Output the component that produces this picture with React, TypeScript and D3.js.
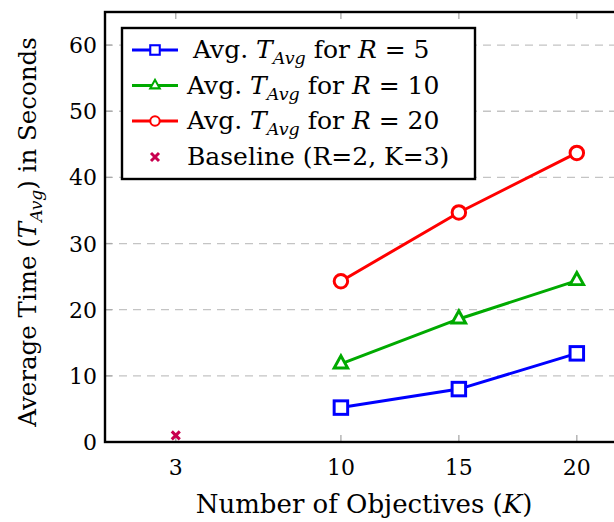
import React from "react";
import * as d3 from "d3";

const kValues = [10, 15, 20];
const r5 = [5.2, 8.0, 13.4];
const r10 = [11.8, 18.6, 24.4];
const r20 = [24.3, 34.7, 43.7];
const baselineK = [3];
const baselineVal = [1.0];
const xTicks = [3, 10, 15, 20];
const yTicks = [0, 10, 20, 30, 40, 50, 60];

const W = 614, H = 522;
const L = 105, T = 12, B = 442, R = 624;
const FONT = "DejaVu Serif";

const x = d3.scaleLinear().domain([0, 22]).range([L, R]);
const y = d3.scaleLinear().domain([0, 65]).range([B, T]);

const series = [
  { name: "5", vals: r5, color: "#0000ff", marker: "square" },
  { name: "10", vals: r10, color: "#00aa00", marker: "triangle" },
  { name: "20", vals: r20, color: "#ff0000", marker: "circle" },
];

function Marker({ type, cx, cy, color, s }: { type: string; cx: number; cy: number; color: string; s: number }) {
  if (type === "square")
    return <rect x={cx - s / 2} y={cy - s / 2} width={s} height={s} fill="white" stroke={color} strokeWidth={s * 0.22} />;
  if (type === "triangle") {
    const h = s * 0.9;
    const p = `${cx - s / 2},${cy + h / 3} ${cx + s / 2},${cy + h / 3} ${cx},${cy - (2 * h) / 3}`;
    return <polygon points={p} fill="white" stroke={color} strokeWidth={s * 0.22} strokeLinejoin="miter" />;
  }
  if (type === "circle")
    return <circle cx={cx} cy={cy} r={s / 2} fill="white" stroke={color} strokeWidth={s * 0.22} />;
  const d = s / 2;
  return (
    <path d={`M${cx - d},${cy - d}L${cx + d},${cy + d}M${cx - d},${cy + d}L${cx + d},${cy - d}`} stroke={color} strokeWidth={3} />
  );
}

export default function App() {
  const line = d3.line<number>().x((_, i) => x(kValues[i])).y((v) => y(v));
  const legX = 122, legY = 28, legW = 353, legH = 151;
  const rowY = [50, 85.5, 121, 157];
  const fs = 25;
  const tfs = 22;
  return (
    <div style={{ position: "absolute", left: 0, top: 0 }}>
      <svg width={W} height={H} style={{ display: "block", fontFamily: FONT }}>
        <defs>
          <clipPath id="plot">
            <rect x={L} y={T} width={R - L} height={B - T} />
          </clipPath>
        </defs>
        <rect x={0} y={0} width={W} height={H} fill="white" />
        {yTicks.filter((t) => t > 0).map((t) => (
          <line key={t} x1={L} x2={R} y1={y(t)} y2={y(t)} stroke="#c4c4c4" strokeWidth={1.3} strokeDasharray="8,6" />
        ))}
        {xTicks.map((t) => (
          <g key={t}>
            <line x1={x(t)} x2={x(t)} y1={B} y2={B - 7} stroke="#aaaaaa" strokeWidth={1.3} />
            <line x1={x(t)} x2={x(t)} y1={T} y2={T + 7} stroke="#aaaaaa" strokeWidth={1.3} />
            <text x={x(t)} y={475} textAnchor="middle" fontSize={tfs}>{t}</text>
          </g>
        ))}
        {yTicks.map((t) => (
          <g key={t}>
            <line x1={L} x2={L + 7} y1={y(t)} y2={y(t)} stroke="#aaaaaa" strokeWidth={1.3} />
            <text x={97} y={y(t) + 8} textAnchor="end" fontSize={tfs}>{t}</text>
          </g>
        ))}
        <g clipPath="url(#plot)">
          {series.map((s) => (
            <g key={s.name}>
              <path d={line(s.vals) || ""} fill="none" stroke={s.color} strokeWidth={3} />
              {s.vals.map((v, i) => (
                <Marker key={i} type={s.marker} cx={x(kValues[i])} cy={y(v)} color={s.color} s={13.5} />
              ))}
            </g>
          ))}
          {baselineVal.map((v, i) => (
            <Marker key={i} type="cross" cx={x(baselineK[i])} cy={y(v)} color="#c8004f" s={8} />
          ))}
        </g>
        <rect x={L} y={T} width={R - L} height={B - T} fill="none" stroke="black" strokeWidth={2.4} />
        <rect x={legX} y={legY} width={legW} height={legH} fill="white" stroke="black" strokeWidth={2.4} />
        {series.map((s, i) => (
          <g key={s.name}>
            <line x1={132} x2={178} y1={rowY[i]} y2={rowY[i]} stroke={s.color} strokeWidth={3} />
            <Marker type={s.marker} cx={155} cy={rowY[i]} color={s.color} s={9.5} />
            <text x={i === 0 ? 193 : 187} y={rowY[i] + 8} fontSize={fs}>
              Avg. <tspan fontStyle="italic">T</tspan>
              <tspan fontStyle="italic" fontSize={17.5} dy={6}>Avg</tspan>
              <tspan dy={-6}> for </tspan>
              <tspan fontStyle="italic">R</tspan> = {s.name}
            </text>
          </g>
        ))}
        <Marker type="cross" cx={155} cy={rowY[3]} color="#c8004f" s={8} />
        <text x={187} y={rowY[3] + 8} fontSize={fs}>Baseline (R=2, K=3)</text>
        <text x={364} y={513} textAnchor="middle" fontSize={26}>
          Number of Objectives (<tspan fontStyle="italic">K</tspan>)
        </text>
        <text transform={`translate(36,232) rotate(-90)`} textAnchor="middle" fontSize={24.5}>
          Average Time (<tspan fontStyle="italic">T</tspan>
          <tspan fontStyle="italic" fontSize={17} dy={6}>Avg</tspan>
          <tspan dy={-6}>) in Seconds</tspan>
        </text>
      </svg>
    </div>
  );
}
